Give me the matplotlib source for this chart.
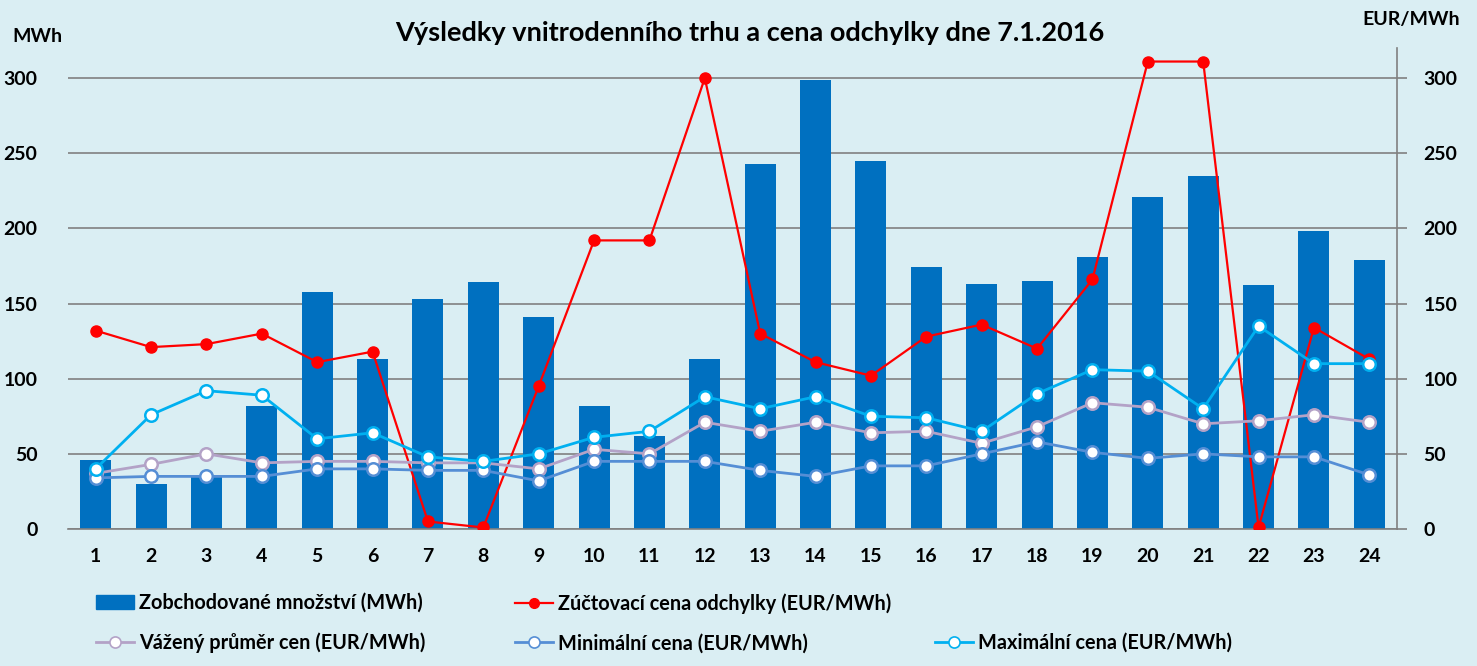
import matplotlib
matplotlib.use("Agg")
import matplotlib.pyplot as plt
import numpy as np
from matplotlib.lines import Line2D
from matplotlib.patches import Patch

plt.rcParams["font.family"] = ["Lato", "DejaVu Sans"]
plt.rcParams["font.weight"] = "bold"

hours = list(range(1, 25))
volume = [46, 30, 36, 82, 158, 113, 153, 164, 141, 82, 62, 113,
          243, 299, 245, 174, 163, 165, 181, 221, 235, 162, 198, 179]
imbalance = [132, 121, 123, 130, 111, 118, 5, 1, 95, 192, 192, 300,
             130, 111, 102, 128, 136, 120, 166, 311, 311, 1, 134, 113]
wavg = [37, 43, 50, 44, 45, 45, 44, 44, 40, 53, 50, 71,
        65, 71, 64, 65, 57, 68, 84, 81, 70, 72, 76, 71]
pmin = [34, 35, 35, 35, 40, 40, 39, 39, 32, 45, 45, 45,
        39, 35, 42, 42, 50, 58, 51, 47, 50, 48, 48, 36]
pmax = [40, 76, 92, 89, 60, 64, 48, 45, 50, 61, 65, 88,
        80, 88, 75, 74, 65, 90, 106, 105, 80, 135, 110, 110]

BG = "#DAEEF3"
GRID = "#808080"

fig = plt.figure(figsize=(14.77, 6.66), dpi=100, facecolor=BG)
W, H = 1477, 666
ax = fig.add_axes([68 / W, 1 - 529 / H, (1397 - 68) / W, (529 - 48) / H])
ax.set_facecolor(BG)
x = np.arange(len(hours))
ax.bar(x, volume, width=0.56, color="#0070C0", zorder=2)
ax.set_xlim(-0.5, len(hours) - 0.5)
ax.set_ylim(0, 320)
ax.set_yticks(range(0, 301, 50))
ax.set_xticks(x)
ax.set_xticklabels([str(h) for h in hours])
ax.yaxis.grid(True, color=GRID, lw=1.2, zorder=0)
ax.set_axisbelow(True)
for s in ("left", "top", "right"):
    ax.spines[s].set_visible(False)
ax.spines["bottom"].set_color(GRID)
ax.spines["bottom"].set_linewidth(1.2)
ax.tick_params(axis="both", length=0, labelsize=14, pad=14)
ax.tick_params(axis="y", pad=22)

ax2 = ax.twinx()
ax2.set_ylim(0, 320)
ax2.set_yticks(range(0, 301, 50))
for s in ("left", "top", "bottom"):
    ax2.spines[s].set_visible(False)
ax2.spines["right"].set_color(GRID)
ax2.spines["right"].set_linewidth(1.2)
ax2.tick_params(axis="y", length=7, color=GRID, width=1.2, labelsize=14, pad=12)

ms = 9
ax2.plot(x, imbalance, color="#FF0000", lw=1.6, marker="o", ms=8,
         mfc="#FF0000", mec="#FF0000", zorder=3)
ax2.plot(x, wavg, color="#B3A2C7", lw=2, marker="o", ms=ms,
         mfc="white", mec="#B3A2C7", mew=1.8, zorder=4)
ax2.plot(x, pmin, color="#558ED5", lw=2, marker="o", ms=ms,
         mfc="white", mec="#558ED5", mew=1.8, zorder=5)
ax2.plot(x, pmax, color="#00B0F0", lw=2, marker="o", ms=ms,
         mfc="white", mec="#00B0F0", mew=1.8, zorder=6)

fig.text(750 / W, 1 - 33 / H, "Výsledky vnitrodenního trhu a cena odchylky dne 7.1.2016",
         ha="center", va="center", fontsize=19.5)
fig.text(12 / W, 1 - 36 / H, "MWh", ha="left", va="center", fontsize=14)
fig.text(1460 / W, 1 - 20 / H, "EUR/MWh", ha="right", va="center", fontsize=14)

leg_kw = dict(frameon=False, fontsize=14.3, handlelength=1.9, handletextpad=0.25,
              labelspacing=1.0, borderaxespad=0, borderpad=0)
h_bar = Patch(color="#0070C0")
h_red = Line2D([], [], color="#FF0000", lw=1.6, marker="o", ms=7, mfc="#FF0000", mec="#FF0000")
h_wavg = Line2D([], [], color="#B3A2C7", lw=2, marker="o", ms=8, mfc="white", mec="#B3A2C7", mew=1.2)
h_min = Line2D([], [], color="#558ED5", lw=2, marker="o", ms=8, mfc="white", mec="#558ED5", mew=1.2)
h_max = Line2D([], [], color="#00B0F0", lw=2, marker="o", ms=8, mfc="white", mec="#00B0F0", mew=1.2)
h_none = Line2D([], [], color="none")

top = 1 - 593 / H
fig.legend([h_bar, h_wavg], ["Zobchodované množství (MWh)", "Vážený průměr cen (EUR/MWh)"],
           loc="upper left", bbox_to_anchor=(96 / W, top), **leg_kw)
fig.legend([h_red, h_min], ["Zúčtovací cena odchylky (EUR/MWh)", "Minimální cena (EUR/MWh)"],
           loc="upper left", bbox_to_anchor=(515 / W, top), **leg_kw)
fig.legend([h_none, h_max], [" ", "Maximální cena (EUR/MWh)"],
           loc="upper left", bbox_to_anchor=(935 / W, top), **leg_kw)

fig.savefig("out.png", dpi=100, facecolor=BG)
